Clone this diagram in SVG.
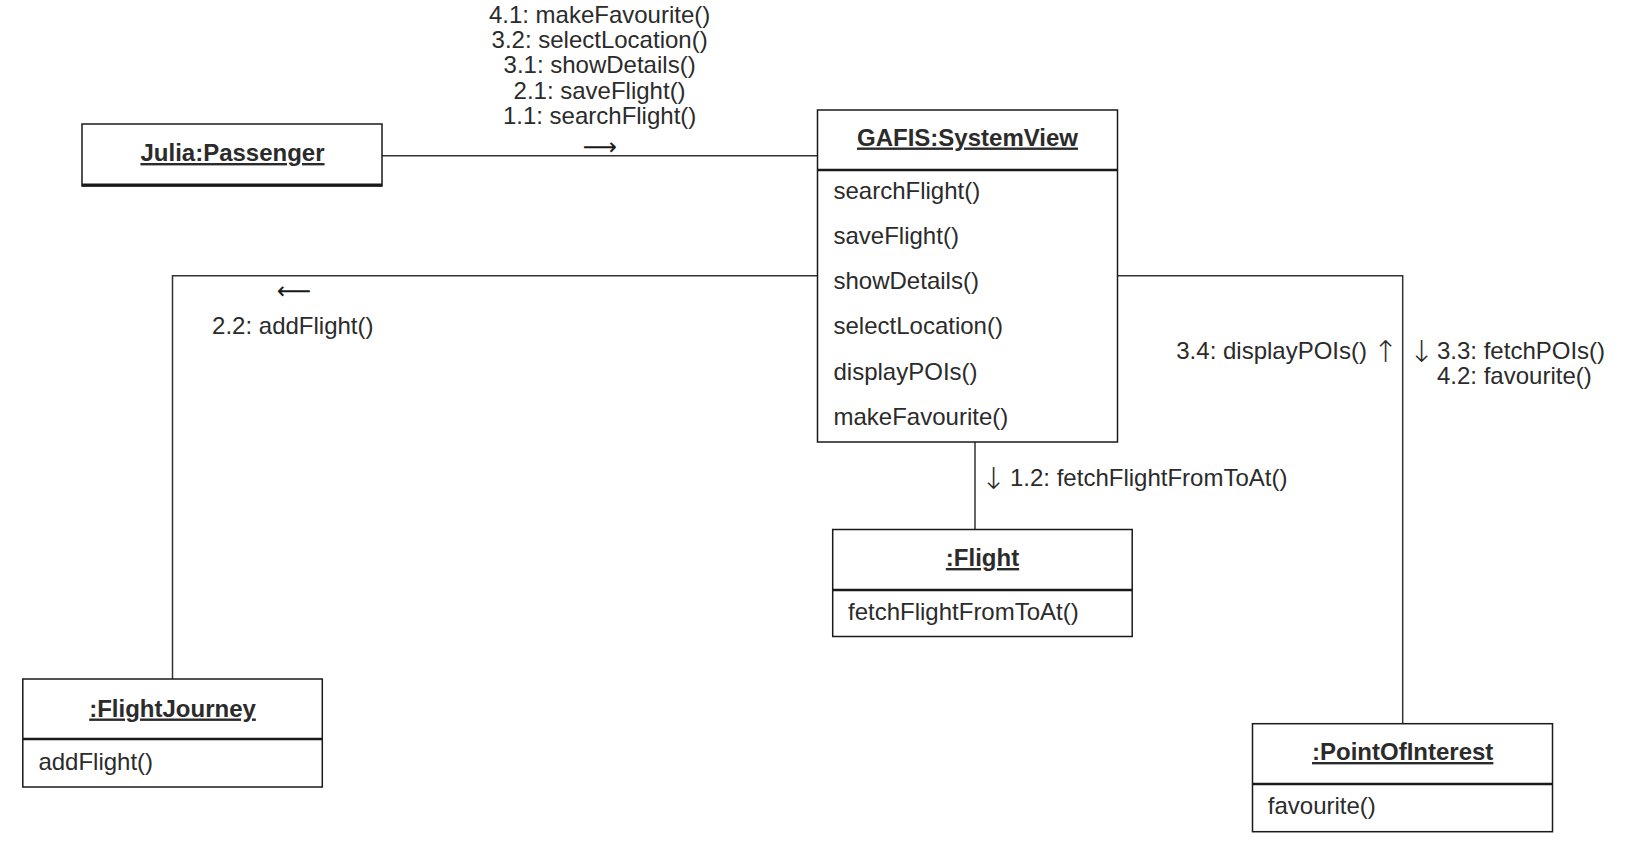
<svg xmlns="http://www.w3.org/2000/svg" width="1628" height="855" viewBox="0 0 1628 855">
<style>
  .box { fill: #ffffff; stroke: #1a1a1a; stroke-width: 1.5; }
  .div { stroke: #1a1a1a; stroke-width: 2.5; }
  .conn { fill: none; stroke: #333333; stroke-width: 1.5; }
  .t { font-family: "Liberation Sans", Arial, sans-serif; font-size: 24px; fill: #2b2b2b; }
  .title { font-family: "Liberation Sans", Arial, sans-serif; font-size: 24px; font-weight: bold; fill: #2b2b2b; text-decoration: underline; text-anchor: middle; }
  .arr { font-family: "DejaVu Sans", sans-serif; font-size: 24px; fill: #1a1a1a; }
  .varr { font-family: "DejaVu Sans", sans-serif; font-size: 30px; font-weight: 200; fill: #2b2b2b; text-anchor: middle; }
</style>
<rect width="1628" height="855" fill="#ffffff"/>
<g id="connectors">
  <line class="conn" x1="382" y1="155.7" x2="817" y2="155.7"/>
  <polyline class="conn" points="817,275.7 172.5,275.7 172.5,679"/>
  <line class="conn" x1="975" y1="442" x2="975" y2="529.5"/>
  <polyline class="conn" points="1117.5,275.7 1402.7,275.7 1402.7,723.7"/>
  <g id="label-passenger-system">
    <text class="t" text-anchor="middle" x="599.6" y="23">4.1: makeFavourite()</text>
    <text class="t" text-anchor="middle" x="599.6" y="48.2">3.2: selectLocation()</text>
    <text class="t" text-anchor="middle" x="599.6" y="73.4">3.1: showDetails()</text>
    <text class="t" text-anchor="middle" x="599.6" y="98.6">2.1: saveFlight()</text>
    <text class="t" text-anchor="middle" x="599.6" y="123.8">1.1: searchFlight()</text>
    <text class="arr" text-anchor="middle" x="600" y="155">⟶</text>
  </g>
  <g id="label-system-journey">
    <text class="arr" text-anchor="middle" x="294" y="299">⟵</text>
    <text class="t" text-anchor="middle" x="292.8" y="333.5">2.2: addFlight()</text>
  </g>
  <g id="label-system-flight">
    <text class="varr" x="993.5" y="489">↓</text>
    <text class="t" x="1010" y="486">1.2: fetchFlightFromToAt()</text>
  </g>
  <g id="label-system-poi">
    <text class="t" text-anchor="end" x="1367" y="358.5">3.4: displayPOIs()</text>
    <text class="varr" x="1385.5" y="361.5">↑</text>
    <text class="varr" x="1421.5" y="361.5">↓</text>
    <text class="t" x="1437" y="358.5">3.3: fetchPOIs()</text>
    <text class="t" x="1437" y="383.5">4.2: favourite()</text>
  </g>
</g>
<g id="node-passenger">
  <rect class="box" x="82" y="124" width="300" height="62"/>
  <line x1="82" y1="185" x2="382" y2="185" stroke="#1a1a1a" stroke-width="3"/>
  <text class="title" x="232.5" y="161">Julia:Passenger</text>
</g>
<g id="node-systemview">
  <rect class="box" x="817.5" y="110" width="300" height="332"/>
  <line class="div" x1="817.5" y1="170" x2="1117.5" y2="170"/>
  <text class="title" x="967.5" y="145.5">GAFIS:SystemView</text>
  <text class="t" x="833.5" y="199">searchFlight()</text>
  <text class="t" x="833.5" y="244">saveFlight()</text>
  <text class="t" x="833.5" y="289">showDetails()</text>
  <text class="t" x="833.5" y="334">selectLocation()</text>
  <text class="t" x="833.5" y="379.5">displayPOIs()</text>
  <text class="t" x="833.5" y="424.5">makeFavourite()</text>
</g>
<g id="node-flightjourney">
  <rect class="box" x="22.8" y="679" width="299.5" height="108"/>
  <line class="div" x1="22.8" y1="739" x2="322.3" y2="739"/>
  <text class="title" x="172.5" y="716.5">:FlightJourney</text>
  <text class="t" x="38.4" y="770">addFlight()</text>
</g>
<g id="node-flight">
  <rect class="box" x="832.7" y="529.5" width="299.5" height="107"/>
  <line class="div" x1="832.7" y1="590" x2="1132.2" y2="590"/>
  <text class="title" x="982.5" y="566">:Flight</text>
  <text class="t" x="848" y="620">fetchFlightFromToAt()</text>
</g>
<g id="node-poi">
  <rect class="box" x="1252.5" y="723.7" width="300" height="108"/>
  <line class="div" x1="1252.5" y1="784" x2="1552.5" y2="784"/>
  <text class="title" x="1402.7" y="760">:PointOfInterest</text>
  <text class="t" x="1267.8" y="814">favourite()</text>
</g>
</svg>
